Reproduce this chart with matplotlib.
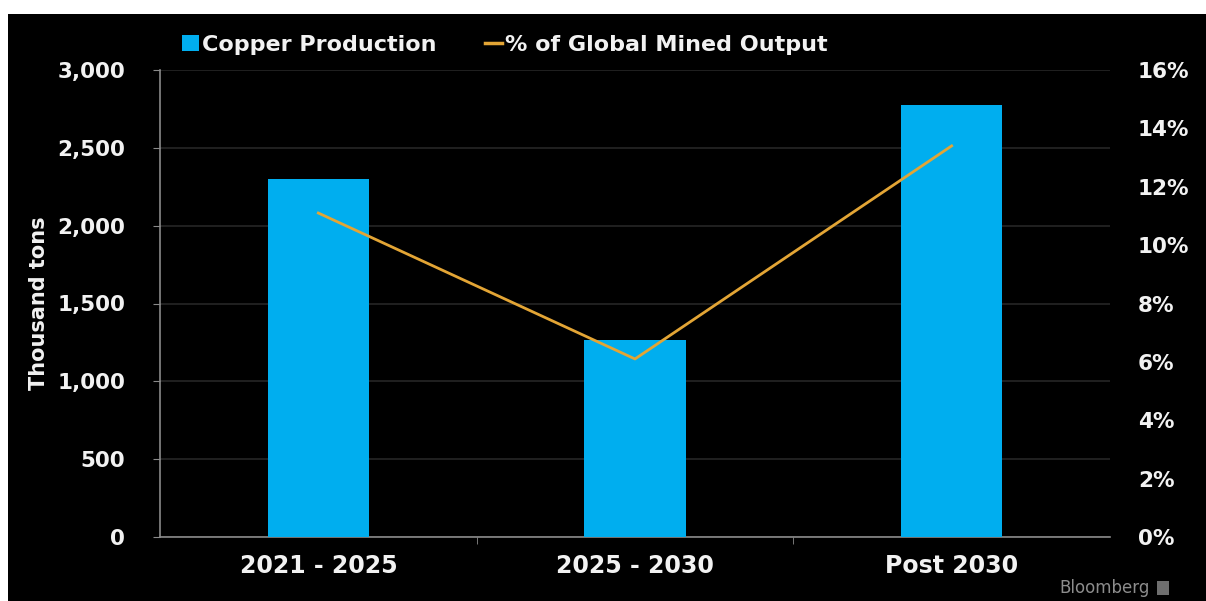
import numpy as np
import matplotlib.pyplot as plt
from matplotlib.patches import Rectangle, Patch
from matplotlib.lines import Line2D

# Copper output by period, and its share of global mined output
periods = ['2021 - 2025', '2025 - 2030', 'Post 2030']
production = [2300, 1265, 2775]          # thousand tons
share_pct = [11.1, 6.1, 13.4]            # % of global mined output
left_ticks = [0, 500, 1000, 1500, 2000, 2500, 3000]
right_ticks = [0, 2, 4, 6, 8, 10, 12, 14, 16]

bar_color = '#00AEEF'
line_color = '#E3A535'
text_color = '#F2F2F2'

plt.rcParams['font.family'] = 'DejaVu Sans'
plt.rcParams['font.weight'] = 'bold'

fig = plt.figure(figsize=(12.06, 6.01), dpi=100, facecolor='white')
# black panel, leaves a thin white strip on top and left
fig.patches.append(Rectangle((8 / 1206, 0), 1, (601 - 14) / 601,
                             transform=fig.transFigure, facecolor='black',
                             edgecolor='none', zorder=-10))

ax = fig.add_axes([160 / 1206, 64 / 601, 950 / 1206, 467 / 601])
ax.set_facecolor('black')
x = np.arange(len(periods))
ax.bar(x, production, width=0.32, color=bar_color, zorder=3)
ax.set_xlim(-0.5, 2.5)
ax.set_ylim(0, 3000)
ax.set_yticks(left_ticks)
ax.set_yticklabels([f'{v:,}' for v in left_ticks])
ax.set_xticks(x)
ax.set_xticklabels(periods)
ax.set_xticks([0.5, 1.5], minor=True)
ax.grid(axis='y', color='#262626', linewidth=1.2, zorder=0)
ax.tick_params(axis='y', colors='#8a8a8a', labelcolor=text_color,
               labelsize=15.5, length=5, pad=20)
ax.tick_params(axis='x', which='major', length=0, labelsize=17,
               labelcolor=text_color, pad=12)
ax.tick_params(axis='x', which='minor', length=5, color='#8a8a8a')
for s in ['top', 'right']:
    ax.spines[s].set_visible(False)
for s in ['left', 'bottom']:
    ax.spines[s].set_color('#8a8a8a')
    ax.spines[s].set_linewidth(1.2)
ax.set_ylabel('Thousand tons', color=text_color, fontsize=15,
              fontweight='bold', labelpad=6)

ax2 = ax.twinx()
ax2.plot(x, share_pct, color=line_color, linewidth=2, zorder=4)
ax2.set_ylim(0, 16)
ax2.set_yticks(right_ticks)
ax2.set_yticklabels([f'{v}%' for v in right_ticks])
ax2.tick_params(axis='y', length=0, labelsize=15.5, labelcolor=text_color, pad=20)
for s in ['top', 'right', 'left', 'bottom']:
    ax2.spines[s].set_visible(False)

handles = [Patch(facecolor=bar_color, edgecolor='none'),
           Line2D([0], [0], color=line_color, linewidth=2.5)]
leg = fig.legend(handles, ['Copper Production', '% of Global Mined Output'],
                 loc='center', bbox_to_anchor=(505 / 1206, 1 - 45 / 601),
                 ncol=2, frameon=False, fontsize=16, handlelength=0.75,
                 handleheight=0.75, handletextpad=0.15, columnspacing=2.2)
for t in leg.get_texts():
    t.set_color(text_color)

fig.text(1150 / 1206, 1 - 588 / 601, 'Bloomberg', color='#8c8c8c',
         fontsize=12, fontweight='normal', ha='right', va='center')
fig.patches.append(Rectangle((1157 / 1206, 1 - 595 / 601), 12 / 1206, 14 / 601,
                             transform=fig.transFigure, facecolor='#6e6e6e',
                             edgecolor='none'))

fig.savefig('out.png', dpi=100, facecolor=fig.get_facecolor())
